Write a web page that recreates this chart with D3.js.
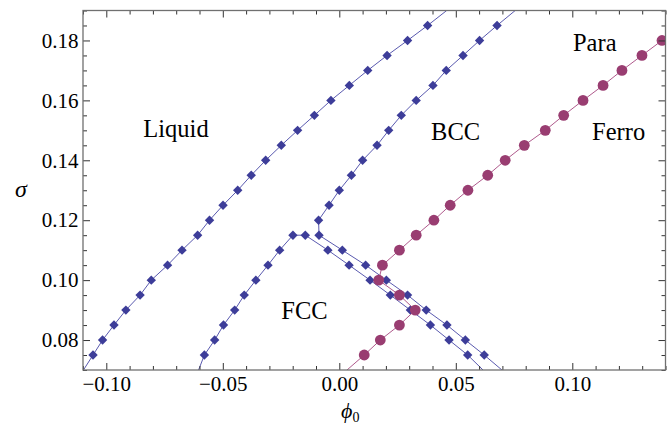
<!DOCTYPE html>
<html>
<head>
<meta charset="utf-8">
<script src="https://cdn.jsdelivr.net/npm/d3@7"></script>
<style>
  html, body { margin: 0; padding: 0; background: #fff; }
  svg { display: block; }
  text { font-family: "Liberation Serif", "Times New Roman", Times, serif; fill: #000; }
</style>
</head>
<body>
<svg id="chart" width="670" height="427"></svg>
<script>
// ---- data (phi0, sigma) ----
const liquidSigma = [0.07,0.075,0.08,0.085,0.09,0.095,0.10,0.105,0.11,0.115,0.12,0.125,0.13,0.135,0.14,0.145,0.15,0.155,0.16,0.165,0.17,0.175,0.18,0.185,0.19];
const liquidPhi   = [-0.1098,-0.1057,-0.1016,-0.0967,-0.0916,-0.0855,-0.0807,-0.0737,-0.0675,-0.0608,-0.0557,-0.0499,-0.0436,-0.0378,-0.0316,-0.0249,-0.0179,-0.0107,-0.0036,0.0043,0.0122,0.0205,0.0293,0.0379,0.0461];

const fccSigma = [0.07,0.075,0.08,0.085,0.09,0.095,0.10,0.105,0.11,0.115,0.115,0.11,0.105,0.10,0.095,0.09,0.085,0.08,0.075,0.07];
const fccPhi   = [-0.0604,-0.0579,-0.0535,-0.0497,-0.0449,-0.0408,-0.0358,-0.0306,-0.0256,-0.0199,-0.0146,-0.0049,0.0042,0.0132,0.0219,0.0305,0.0391,0.0471,0.0551,0.0617];

const bccSigma = [0.07,0.075,0.08,0.085,0.09,0.095,0.10,0.105,0.11,0.115,0.12,0.125,0.13,0.135,0.14,0.145,0.15,0.155,0.16,0.165,0.17,0.175,0.18,0.185,0.19];
const bccPhi   = [0.0698,0.0622,0.0541,0.0462,0.0373,0.0293,0.0202,0.0113,0.0013,-0.0087,-0.0089,-0.0044,0.0000,0.0052,0.0100,0.0162,0.0212,0.0266,0.0330,0.0402,0.0459,0.0531,0.0602,0.0677,0.0755];

const ferroSigma = [0.07,0.075,0.08,0.085,0.09,0.095,0.10,0.105,0.11,0.115,0.12,0.125,0.13,0.135,0.14,0.145,0.15,0.155,0.16,0.165,0.17,0.175,0.18,0.185];
const ferroPhi   = [0.0033,0.0107,0.0176,0.0258,0.0326,0.0258,0.0169,0.0185,0.0258,0.0330,0.0406,0.0476,0.0552,0.0637,0.0712,0.0794,0.0884,0.0963,0.1046,0.1132,0.1213,0.1299,0.1385,0.1470];

const xMajorTicks = [-0.10, -0.05, 0.00, 0.05, 0.10];
const xTickLabels = ["\u22120.10", "\u22120.05", "0.00", "0.05", "0.10"];
const yMajorTicks = [0.08, 0.10, 0.12, 0.14, 0.16, 0.18];
const yTickLabels = ["0.08", "0.10", "0.12", "0.14", "0.16", "0.18"];

const regionLabels = ["Liquid", "BCC", "FCC", "Para", "Ferro"];
const regionPhi    = [-0.0841, 0.0394, -0.0249, 0.1003, 0.1085];
const regionSigma  = [0.1477, 0.1467, 0.0870, 0.1764, 0.1467];

// ---- layout ----
const L = 83, R = 665.5, T = 10.5, B = 370;
const x = d3.scaleLinear().domain([-0.11, 0.14]).range([L, R]);
const y = d3.scaleLinear().domain([0.07, 0.19]).range([B, T]);

const blue = "rgb(61,61,153)";
const magenta = "rgb(153,61,113)";

const svg = d3.select("#chart");

svg.append("defs").append("clipPath").attr("id", "plotclip")
  .append("rect").attr("x", L).attr("y", T).attr("width", R - L).attr("height", B - T);

const plot = svg.append("g").attr("clip-path", "url(#plotclip)");

function series(phis, sigmas) { return phis.map((p, i) => [p, sigmas[i]]); }
const line = d3.line().x(d => x(d[0])).y(d => y(d[1]));

const blueSeries = [series(liquidPhi, liquidSigma), series(fccPhi, fccSigma), series(bccPhi, bccSigma)];
const ferro = series(ferroPhi, ferroSigma);

const inside = d => d[1] > 0.0701 && d[1] < 0.1899 && d[0] > -0.1099 && d[0] < 0.1399;

blueSeries.forEach(s => {
  plot.append("path").attr("d", line(s)).attr("fill", "none")
    .attr("stroke", "rgb(90,90,175)").attr("stroke-width", 1);
});
const dr = 4.7;
const diamond = `M0,${-dr}L${dr},0L0,${dr}L${-dr},0Z`;
blueSeries.forEach(s => {
  plot.selectAll(null).data(s.filter(inside)).enter().append("path")
    .attr("d", diamond)
    .attr("transform", d => `translate(${x(d[0])},${y(d[1])})`)
    .attr("fill", blue);
});

plot.append("path").attr("d", line(ferro)).attr("fill", "none")
  .attr("stroke", "rgb(175,90,140)").attr("stroke-width", 1);
plot.selectAll(null).data(ferro.filter(inside)).enter().append("circle")
  .attr("cx", d => x(d[0])).attr("cy", d => y(d[1])).attr("r", 5.4)
  .attr("fill", magenta);

// ---- frame & ticks ----
const xMinor = d3.range(-0.11, 0.1401, 0.01).map(v => +v.toFixed(3)).filter(v => !xMajorTicks.some(m => Math.abs(m - v) < 1e-6));
const yMinor = d3.range(0.07, 0.1901, 0.005).map(v => +v.toFixed(3)).filter(v => !yMajorTicks.some(m => Math.abs(m - v) < 1e-6));

function styleAxis(g) {
  g.select(".domain").remove();
  g.selectAll("line").attr("stroke", "#333").attr("stroke-width", 1);
  g.selectAll("text").style("font-family", '"Liberation Serif", "Times New Roman", serif').style("font-size", "21px").attr("fill", "#000");
}

// bottom
svg.append("g").attr("transform", `translate(0,${B})`)
  .call(d3.axisBottom(x).tickValues(xMajorTicks).tickSizeInner(-7).tickSizeOuter(0).tickPadding(6)
    .tickFormat((d, i) => xTickLabels[i])).call(styleAxis);
svg.append("g").attr("transform", `translate(0,${B})`)
  .call(d3.axisBottom(x).tickValues(xMinor).tickSizeInner(-4).tickSizeOuter(0).tickFormat("")).call(styleAxis);
// top
svg.append("g").attr("transform", `translate(0,${T})`)
  .call(d3.axisTop(x).tickValues(xMajorTicks).tickSizeInner(-7).tickSizeOuter(0).tickFormat("")).call(styleAxis);
svg.append("g").attr("transform", `translate(0,${T})`)
  .call(d3.axisTop(x).tickValues(xMinor).tickSizeInner(-4).tickSizeOuter(0).tickFormat("")).call(styleAxis);
// left
svg.append("g").attr("transform", `translate(${L},0)`)
  .call(d3.axisLeft(y).tickValues(yMajorTicks).tickSizeInner(-7).tickSizeOuter(0).tickPadding(4.5)
    .tickFormat((d, i) => yTickLabels[i])).call(styleAxis);
svg.append("g").attr("transform", `translate(${L},0)`)
  .call(d3.axisLeft(y).tickValues(yMinor).tickSizeInner(-4).tickSizeOuter(0).tickFormat("")).call(styleAxis);
// right
svg.append("g").attr("transform", `translate(${R},0)`)
  .call(d3.axisRight(y).tickValues(yMajorTicks).tickSizeInner(-7).tickSizeOuter(0).tickFormat("")).call(styleAxis);
svg.append("g").attr("transform", `translate(${R},0)`)
  .call(d3.axisRight(y).tickValues(yMinor).tickSizeInner(-4).tickSizeOuter(0).tickFormat("")).call(styleAxis);

svg.append("rect").attr("x", L).attr("y", T).attr("width", R - L).attr("height", B - T)
  .attr("fill", "none").attr("stroke", "#707070").attr("stroke-width", 1.3);

// ---- region labels ----
svg.selectAll(null).data(regionLabels).enter().append("text")
  .attr("x", (d, i) => x(regionPhi[i])).attr("y", (d, i) => y(regionSigma[i]))
  .attr("text-anchor", "start").style("font-size", "24.5px").text(d => d);

// ---- axis titles ----
svg.append("text").attr("x", 21).attr("y", 197).attr("text-anchor", "middle")
  .style("font-size", "24px").style("font-style", "italic").text("\u03C3");
const xt = svg.append("text").attr("x", 341).attr("y", 418).attr("text-anchor", "start")
  .style("font-size", "22px").style("font-style", "italic");
xt.append("tspan").text("\u03D5");
xt.append("tspan").attr("dy", 4).style("font-size", "14px").style("font-style", "normal").text("0");
</script>
</body>
</html>
